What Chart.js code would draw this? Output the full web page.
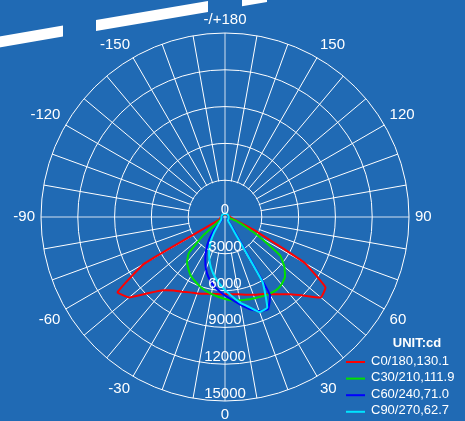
<!DOCTYPE html>
<html>
<head>
<meta charset="utf-8">
<script src="https://cdn.jsdelivr.net/npm/chart.js@4.4.1/dist/chart.umd.min.js"></script>
<style>
html, body { margin: 0; padding: 0; background: #206ab4; overflow: hidden; }
canvas { display: block; position: absolute; left: -8px; top: 0; }
</style>
</head>
<body>
<canvas id="myChart" width="473" height="422"></canvas>
<script>
const bg = '#206ab4';
const font = 'Arial, "Liberation Sans", sans-serif';
const shiftX = 8; // canvas sits 8px left of the page

// gamma angles, clockwise from the top of the diagram
const angles = [180,175,170,165,160,155,150,145,140,135,130,125,120,115,110,105,100,95,
  90,85,80,75,70,65,60,55,50,45,40,35,30,25,20,15,10,5,0,
  -5,-10,-15,-20,-25,-30,-35,-40,-45,-50,-55,-60,-65,-70,-75,-80,-85,-90,
  -95,-100,-105,-110,-115,-120,-125,-130,-135,-140,-145,-150,-155,-160,-165,-170,-175];

// intensity (cd) per angle
const c0 = [200,200,200,210,220,230,240,250,260,270,280,290,300,310,330,350,370,390,
  400,480,600,810,1250,2950,7500,10000,10200,9050,8230,7700,7250,6950,6750,6560,6400,6330,6290,
  6310,6350,6470,6630,6780,7030,7320,7800,8760,10200,10700,7600,500,430,400,380,360,350,
  340,330,320,310,300,290,280,270,260,250,240,230,220,215,210,205,200];
const c30 = [230,230,235,240,245,250,255,260,265,270,275,280,285,290,295,300,300,300,
  300,330,380,500,1000,1780,3300,5500,6320,6920,7170,7280,7230,7140,7040,6970,6900,6830,6690,
  6530,6370,6200,6010,5780,5550,5190,4810,4180,2270,650,400,350,320,310,300,300,300,
  295,290,285,280,275,270,265,260,255,250,245,240,235,230,230,230,230];
const c60 = [240,240,245,250,250,255,255,260,260,265,265,270,270,275,275,280,280,285,
  285,290,290,295,300,300,310,320,330,350,450,1000,7340,8300,8160,7770,7250,6790,6400,
  6010,5610,5130,4530,3810,3060,2260,1310,450,330,310,300,300,295,295,290,290,285,
  285,280,280,275,275,270,270,265,265,260,260,255,255,250,250,245,240];
const c90 = [260,260,265,270,270,275,275,280,280,285,285,290,290,295,295,300,300,300,
  300,300,305,305,310,315,320,330,340,350,380,650,6130,8150,8250,7600,7090,6490,5950,
  5440,4900,4340,3710,3050,2360,1550,900,600,450,370,340,320,310,305,300,300,300,
  300,300,295,295,290,290,285,285,280,280,275,275,270,270,265,265,260];

const seriesNames = ['C0/180,130.1', 'C30/210,111.9', 'C60/240,71.0', 'C90/270,62.7'];
const seriesColors = ['#ff0000', '#00e000', '#0000ff', '#00e5ff'];
const rTicks = [0, 3000, 6000, 9000, 12000, 15000];
const unitLabel = 'UNIT:cd';

// spokes do not enter the inner ring, only the cross does
const innerDisc = {
  id: 'innerDisc',
  beforeDatasetsDraw(chart) {
    const s = chart.scales.r, ctx = chart.ctx;
    const rad = s.getDistanceFromCenterForValue(rTicks[1]);
    ctx.save();
    ctx.fillStyle = bg;
    ctx.beginPath();
    ctx.arc(s.xCenter, s.yCenter, rad - 0.7, 0, Math.PI * 2);
    ctx.fill();
    ctx.strokeStyle = 'rgba(255,255,255,0.8)';
    ctx.lineWidth = 1;
    ctx.beginPath();
    ctx.moveTo(s.xCenter - rad, s.yCenter);
    ctx.lineTo(s.xCenter + rad, s.yCenter);
    ctx.moveTo(s.xCenter, s.yCenter - rad);
    ctx.lineTo(s.xCenter, s.yCenter + rad);
    ctx.stroke();
    ctx.restore();
  }
};

// radial values written down the 0 spoke
const tickText = {
  id: 'tickText',
  afterDatasetsDraw(chart) {
    const s = chart.scales.r, ctx = chart.ctx;
    ctx.save();
    ctx.font = '15px ' + font;
    ctx.fillStyle = '#ffffff';
    ctx.textAlign = 'center';
    ctx.textBaseline = 'alphabetic';
    rTicks.forEach(v => {
      ctx.fillText(String(v), s.xCenter, s.yCenter + s.getDistanceFromCenterForValue(v) - 3);
    });
    ctx.restore();
  }
};

const legendBox = {
  id: 'legendBox',
  afterDraw(chart) {
    const ctx = chart.ctx;
    ctx.save();
    ctx.translate(shiftX, 0);
    ctx.fillStyle = '#ffffff';
    ctx.font = 'bold 13px ' + font;
    ctx.textAlign = 'center';
    ctx.textBaseline = 'middle';
    ctx.fillText(unitLabel, 417, 343);
    ctx.font = '13px ' + font;
    ctx.textAlign = 'left';
    chart.data.datasets.forEach((ds, i) => {
      const y = 362 + i * 16.6;
      ctx.strokeStyle = ds.borderColor;
      ctx.lineWidth = 2;
      ctx.beginPath();
      ctx.moveTo(346, y);
      ctx.lineTo(365, y);
      ctx.stroke();
      ctx.fillStyle = '#ffffff';
      ctx.fillText(ds.label, 371, y - 1);
    });
    ctx.restore();
  }
};

// white stripes across the top left corner
const stripes = {
  id: 'stripes',
  afterDraw(chart) {
    const ctx = chart.ctx;
    const top = x => 36.3 - 0.17 * x;
    ctx.save();
    ctx.translate(shiftX, 0);
    ctx.fillStyle = '#ffffff';
    [[-5, 63], [96, 208], [242, 267]].forEach(([a, b]) => {
      ctx.beginPath();
      ctx.moveTo(a, top(a));
      ctx.lineTo(b, top(b));
      ctx.lineTo(b, top(b) + 11);
      ctx.lineTo(a, top(a) + 11);
      ctx.closePath();
      ctx.fill();
    });
    ctx.restore();
  }
};

const series = [c0, c30, c60, c90];
const datasets = series.map((vals, i) => ({
  label: seriesNames[i],
  data: vals,
  borderColor: seriesColors[i],
  backgroundColor: seriesColors[i],
  borderWidth: 2,
  pointRadius: 0,
  pointHitRadius: 0,
  fill: false,
  tension: 0.1,
  order: 4 - i
}));

var ctx = document.getElementById('myChart');
var myChart = new Chart(ctx, {
  type: 'radar',
  data: {
    labels: angles,
    datasets: datasets
  },
  options: {
    responsive: false,
    animation: false,
    devicePixelRatio: 1,
    layout: { padding: { left: 0, right: 6, top: 12, bottom: 0 } },
    plugins: {
      legend: { display: false },
      tooltip: { enabled: false }
    },
    scales: {
      r: {
        min: rTicks[0],
        max: rTicks[rTicks.length - 1],
        ticks: { stepSize: 3000, display: false },
        grid: { circular: true, color: '#ffffff', lineWidth: 1 },
        angleLines: {
          color: c => (c.index % 18 === 0 ? 'rgba(255,255,255,0.8)' : '#ffffff'),
          lineWidth: c => (c.index % 2 === 0 ? 1 : 0)
        },
        pointLabels: {
          color: '#ffffff',
          padding: 6,
          font: { family: font, size: 15, lineHeight: 1 },
          callback: (label, index) => {
            if (index % 6 !== 0) return '';
            return label === 180 ? '-/+180' : String(label);
          }
        }
      }
    }
  },
  plugins: [innerDisc, tickText, legendBox, stripes]
});
</script>
</body>
</html>
